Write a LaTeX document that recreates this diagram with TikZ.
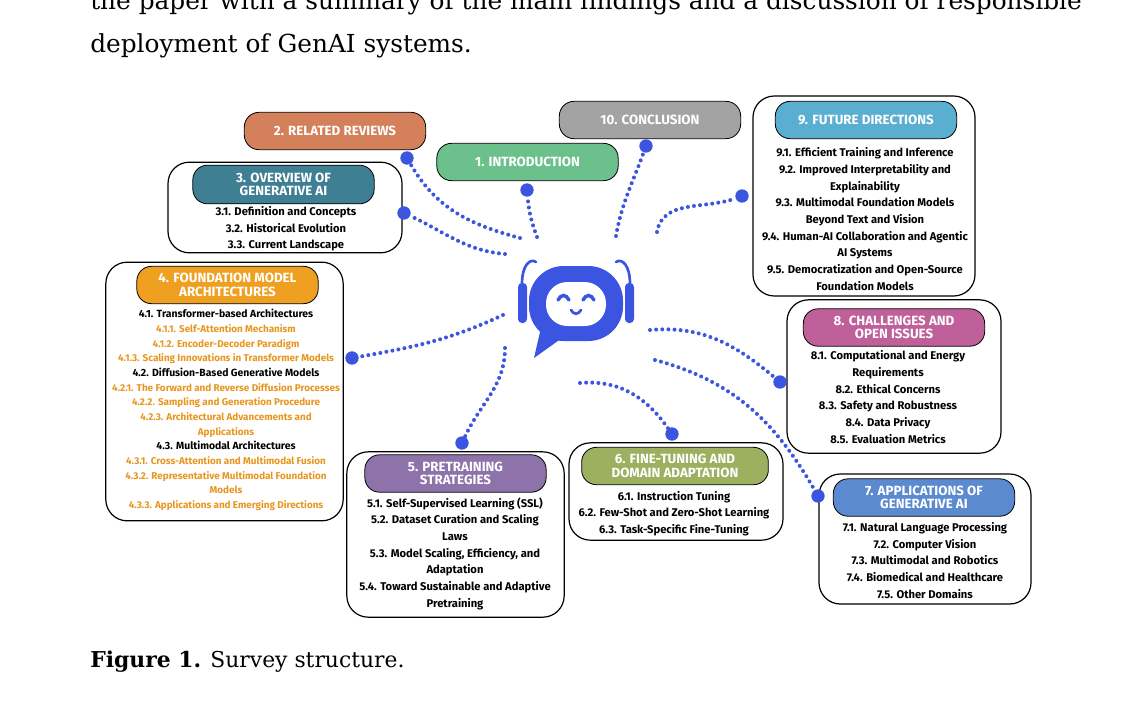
\documentclass[tikz,border=0pt]{standalone}
\usepackage{fontspec}
\setmainfont{DejaVu Serif}
\newfontfamily\boxfont{Fira Sans}
\usetikzlibrary{positioning}
\definecolor{botblue}{HTML}{3B55E0}
\definecolor{suborange}{HTML}{E8961E}
\definecolor{cRel}{HTML}{D4805A}
\definecolor{cIntro}{HTML}{6CC08B}
\definecolor{cConc}{HTML}{A3A3A3}
\definecolor{cOver}{HTML}{3F7F93}
\definecolor{cFut}{HTML}{5AAED0}
\definecolor{cFound}{HTML}{F0A020}
\definecolor{cChal}{HTML}{C0609A}
\definecolor{cPre}{HTML}{8E73AA}
\definecolor{cFine}{HTML}{9CB060}
\definecolor{cApp}{HTML}{5B8AD0}
\tikzstyle{panel} = [rectangle, rounded corners=16pt, draw=black, line width=0.9pt, fill=white, inner sep=0pt]
\tikzstyle{head} = [rectangle, rounded corners=11pt, draw=black, line width=0.6pt, text=white,
font=\boxfont\bfseries\fontsize{10}{10}\selectfont, align=center, minimum width=136pt, minimum height=28pt, inner sep=1pt]
\tikzstyle{items} = [align=center, inner sep=0pt, font=\boxfont\bfseries\fontsize{8.4}{12.5}\selectfont]
\tikzstyle{dot} = [circle, fill=botblue, inner sep=0pt, minimum size=10pt]
\tikzstyle{link} = [botblue, line width=3pt, dash pattern=on 0pt off 4.6pt, line cap=round]
\newcommand{\subitm}[1]{{\color{suborange}\fontsize{7.4}{11}\selectfont #1}}
\newcommand{\mainitm}[1]{{\fontsize{7.8}{11}\selectfont #1}}

\begin{document}
\begin{tikzpicture}[x=0.75pt, y=-0.75pt]
\useasboundingbox (0,0) rectangle (1124,711);

% page text
\node[anchor=base west, inner sep=0pt, font=\fontsize{18.6}{20}\selectfont] (line1) at (90,9) {the paper with a summary of the main findings and a discussion of responsible};
\node[anchor=base west, inner sep=0pt, font=\fontsize{18.6}{20}\selectfont] (line2) at (90,52) {deployment of GenAI systems.};
\node[anchor=base west, inner sep=0pt, font=\fontsize{16.4}{18}\selectfont] (caption) at (90,667) {\textbf{Figure 1.} Survey structure.};

% panels
\node(overview)[panel, minimum width=175.5pt, minimum height=68pt] at (285,207.5) {};
\node(future)[panel, minimum width=166.5pt, minimum height=150pt] at (864,196) {};
\node(found)[panel, minimum width=178pt, minimum height=194pt] at (224.5,391.5) {};
\node(chal)[panel, minimum width=160.5pt, minimum height=115pt] at (894,376.5) {};
\node(pre)[panel, minimum width=163pt, minimum height=124pt] at (455.5,534.5) {};
\node(fine)[panel, minimum width=160.5pt, minimum height=73pt] at (676,491.5) {};
\node(app)[panel, minimum width=159pt, minimum height=97.5pt] at (925,539) {};

% headers
\node(relHead)[head, fill=cRel] at (335,131) {2. RELATED REVIEWS};
\node(introHead)[head, fill=cIntro] at (527.5,162) {1. INTRODUCTION};
\node(concHead)[head, fill=cConc] at (650,120) {10. CONCLUSION};
\node(overHead)[head, fill=cOver, minimum height=29pt] at (283.5,184.5) {3. OVERVIEW OF\\GENERATIVE AI};
\node(futHead)[head, fill=cFut] at (866,120) {9. FUTURE DIRECTIONS};
\node(foundHead)[head, fill=cFound] at (227.5,285) {4. FOUNDATION MODEL\\ARCHITECTURES};
\node(chalHead)[head, fill=cChal] at (894,327.5) {8. CHALLENGES AND\\OPEN ISSUES};
\node(preHead)[head, fill=cPre] at (455.5,473.5) {5. PRETRAINING\\STRATEGIES};
\node(fineHead)[head, fill=cFine, minimum width=140pt] at (675,466) {6. FINE-TUNING AND\\DOMAIN ADAPTATION};
\node(appHead)[head, fill=cApp] at (924,497.5) {7. APPLICATIONS OF\\GENERATIVE AI};

% items
\node(overText)[items] at (286,229) {3.1. Definition and Concepts\\3.2. Historical Evolution\\3.3. Current Landscape};
\node(futText)[items] at (865,219) {9.1. Efficient Training and Inference\\9.2. Improved Interpretability and\\Explainability\\9.3. Multimodal Foundation Models\\Beyond Text and Vision\\9.4. Human-AI Collaboration and Agentic\\AI Systems\\9.5. Democratization and Open-Source\\Foundation Models};
\node(foundText)[items, font=\boxfont\bfseries\fontsize{7.8}{11}\selectfont] at (226,410) {\mainitm{4.1. Transformer-based Architectures}\\
\subitm{4.1.1. Self-Attention Mechanism}\\
\subitm{4.1.2. Encoder-Decoder Paradigm}\\
\subitm{4.1.3. Scaling Innovations in Transformer Models}\\
\mainitm{4.2. Diffusion-Based Generative Models}\\
\subitm{4.2.1. The Forward and Reverse Diffusion Processes}\\
\subitm{4.2.2. Sampling and Generation Procedure}\\
\subitm{4.2.3. Architectural Advancements and}\\
\subitm{Applications}\\
\mainitm{4.3. Multimodal Architectures}\\
\subitm{4.3.1. Cross-Attention and Multimodal Fusion}\\
\subitm{4.3.2. Representative Multimodal Foundation}\\
\subitm{Models}\\
\subitm{4.3.3. Applications and Emerging Directions}};
\node(chalText)[items] at (888,397) {8.1. Computational and Energy\\Requirements\\8.2. Ethical Concerns\\8.3. Safety and Robustness\\8.4. Data Privacy\\8.5. Evaluation Metrics};
\node(preText)[items] at (455,553.5) {5.1. Self-Supervised Learning (SSL)\\5.2. Dataset Curation and Scaling\\Laws\\5.3. Model Scaling, Efficiency, and\\Adaptation\\5.4. Toward Sustainable and Adaptive\\Pretraining};
\node(fineText)[items] at (674,513.5) {6.1. Instruction Tuning\\6.2. Few-Shot and Zero-Shot Learning\\6.3. Task-Specific Fine-Tuning};
\node(appText)[items] at (925,560.5) {7.1. Natural Language Processing\\7.2. Computer Vision\\7.3. Multimodal and Robotics\\7.4. Biomedical and Healthcare\\7.5. Other Domains};

% robot
\node(bot)[inner sep=0pt, minimum size=1pt] at (576,303) {};
\fill[botblue] (540,332) -- (534,358) -- (562,338) -- cycle;
\fill[botblue, rounded corners=26pt] (529,266) rectangle (623,341);
\fill[white, rounded corners=16pt] (546,282) rectangle (606,326);
\fill[botblue, rounded corners=3pt] (518,283) rectangle (527,323);
\fill[botblue, rounded corners=3pt] (625,283) rectangle (634,323);
\draw[botblue, line width=2pt, line cap=round] (522,284) .. controls (522,265) and (530,258) .. (536,262);
\draw[botblue, line width=2pt, line cap=round] (630,284) .. controls (630,265) and (622,258) .. (616,262);
\draw[botblue, line width=2.6pt, line cap=round] (558,300) .. controls (561,294) and (566,294) .. (569,300);
\draw[botblue, line width=2.6pt, line cap=round] (583,300) .. controls (586,294) and (591,294) .. (594,300);
\draw[botblue, line width=2pt, line cap=round] (571,310) .. controls (574,315) and (578,315) .. (581,310);

% dots and link starts
\node(dRel)[dot] at (407,158) {};
\node(dIntro)[dot] at (527,190) {};
\node(dConc)[dot] at (646,146) {};
\node(dOver)[dot] at (404,213) {};
\node(dFut)[dot] at (742,196) {};
\node(dFound)[dot] at (352,358) {};
\node(dChal)[dot] at (780,382) {};
\node(dPre)[dot] at (462,443) {};
\node(dFine)[dot] at (672,434) {};
\node(dApp)[dot] at (818,496) {};
\coordinate(sRel) at (520,238);
\coordinate(sIntro) at (537,237);
\coordinate(sConc) at (616,236);
\coordinate(sOver) at (505,254);
\coordinate(sFut) at (657,232);
\coordinate(sFound) at (503,315);
\coordinate(sChal) at (650,330);
\coordinate(sPre) at (505,348);
\coordinate(sFine) at (580,383);
\coordinate(sApp) at (655,360);

\draw[link](sRel) to[out=165, in=-60] (dRel);
\draw[link](sIntro) to[out=110, in=-85] (dIntro);
\draw[link](sConc) to[out=80, in=-110] (dConc);
\draw[link](sOver) to[out=175, in=-25] (dOver);
\draw[link](sFut) to[out=80, in=200] (dFut);
\draw[link](sFound) to[out=205, in=10] (dFound);
\draw[link](sPre) to[out=-90, in=65] (dPre);
\draw[link](sFine) to[out=5, in=125] (dFine);
\draw[link](sChal) to[out=5, in=140] (dChal);
\draw[link](sApp) to[out=-15, in=120] (dApp);

\end{tikzpicture}
\end{document}
